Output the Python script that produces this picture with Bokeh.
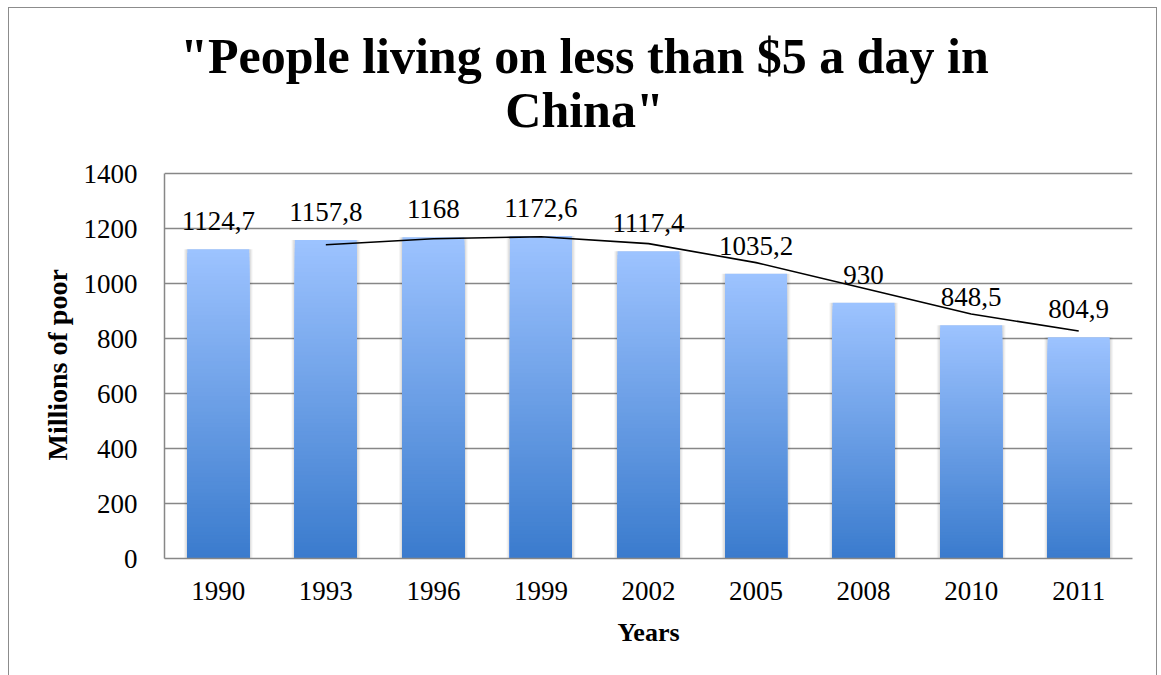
from bokeh.plotting import figure
from bokeh.models import ColumnDataSource, LabelSet, FixedTicker, FactorRange, Title
from bokeh.core.properties import value
from bokeh.embed import file_html
from bokeh.resources import INLINE

# ---- data ----
years = ["1990", "1993", "1996", "1999", "2002", "2005", "2008", "2010", "2011"]
poor_millions = [1124.7, 1157.8, 1168.0, 1172.6, 1117.4, 1035.2, 930.0, 848.5, 804.9]
trend_years = ["1993", "1996", "1999", "2002", "2005", "2008", "2010", "2011"]
trend_values = [1141, 1163, 1170, 1145, 1076, 983, 889, 827]
y_ticks = [0, 200, 400, 600, 800, 1000, 1200, 1400]
title_lines = ['"People living on less than $5 a day in', 'China"']
x_title = "Years"
y_title = "Millions of poor"

SERIF = "Liberation Serif"
GRID = "#878787"
TOP_RGB = (157, 195, 255)
BOT_RGB = (58, 123, 205)

# The frame reaches up to the top of the box so the title can sit inside it;
# the value axis itself is bounded to 0..1400.
AXIS_MAX = 1400
FRAME_H = 550
PLOT_PX = 385                       # pixel height of the 0..1400 part
Y_END = AXIS_MAX * FRAME_H / PLOT_PX
px_per_unit = PLOT_PX / AXIS_MAX

p = figure(
    x_range=FactorRange(*years), y_range=(0, Y_END),
    frame_width=968, frame_height=FRAME_H,
    min_border_left=155, min_border_right=24,
    min_border_top=0, min_border_bottom=117,
    output_backend="svg", toolbar_location=None, title=None,
    background_fill_color="white", border_fill_color="white",
)
p.styles = {
    "margin-left": "8px", "margin-top": "7px",
    "border-left": "1px solid #8c8c8c",
    "border-top": "1px solid #8c8c8c",
    "border-right": "1px solid #8c8c8c",
}
p.outline_line_color = None

# ---- title: two centred lines ----
title_x = (584 - 164) / (968 / len(years))             # centre in category units
title_y = [503 / px_per_unit, 449 / px_per_unit]       # the two baselines
p.text(x=[title_x, title_x], y=title_y, text=title_lines,
       text_font=value(SERIF), text_font_style="bold", text_font_size="50px",
       text_align="center", text_baseline="alphabetic", text_color="black")

# ---- bar shadows ----
bar_w = 0.576
px = 1.0 / (968 / len(years))
for extra, alpha in [(7, 0.035), (5, 0.045), (3, 0.06)]:
    p.vbar(x=years, top=poor_millions, bottom=0, width=bar_w + extra * px,
           fill_color="black", fill_alpha=alpha, line_color=None)

# ---- gradient bars: nested rectangles from 0, tallest (lightest) drawn first ----
N = 80
rows = []
for yr, v in zip(years, poor_millions):
    for i in range(N):
        f = (i + 0.5) / N
        r = round(BOT_RGB[0] + f * (TOP_RGB[0] - BOT_RGB[0]))
        g = round(BOT_RGB[1] + f * (TOP_RGB[1] - BOT_RGB[1]))
        b = round(BOT_RGB[2] + f * (TOP_RGB[2] - BOT_RGB[2]))
        rows.append((i, yr, v * (i + 1) / N, "#%02x%02x%02x" % (r, g, b)))
rows.sort(key=lambda t: -t[0])
src = ColumnDataSource(dict(x=[t[1] for t in rows], top=[t[2] for t in rows],
                            bottom=[0] * len(rows), color=[t[3] for t in rows]))
p.vbar(x="x", top="top", bottom="bottom", width=bar_w, fill_color="color",
       line_color=None, source=src)

# ---- trend line ----
p.line(trend_years, trend_values, line_color="black", line_width=1.6)

# ---- data labels ----
lab_src = ColumnDataSource(dict(
    x=years, y=poor_millions,
    t=[f"{v:g}".replace(".", ",") for v in poor_millions]))
p.add_layout(LabelSet(x="x", y="y", text="t", source=lab_src, y_offset=19,
                      text_align="center", text_baseline="alphabetic",
                      text_font=SERIF, text_font_size="27px", text_color="black"))

# ---- axes ----
p.yaxis.ticker = FixedTicker(ticks=y_ticks)
p.ygrid.ticker = FixedTicker(ticks=y_ticks)
p.yaxis.bounds = (0, AXIS_MAX)
p.xgrid.grid_line_color = None
p.ygrid.grid_line_color = GRID
p.ygrid.grid_line_width = 1.3

for ax in (p.xaxis[0], p.yaxis[0]):
    ax.axis_line_color = GRID
    ax.axis_line_width = 1.5
    ax.major_tick_line_color = None
    ax.minor_tick_line_color = None
    ax.major_label_text_font = SERIF
    ax.major_label_text_font_size = "27px"
    ax.major_label_text_color = "black"
    ax.axis_label_text_font = SERIF
    ax.axis_label_text_font_style = "bold"
    ax.axis_label_text_color = "black"

p.yaxis.major_label_standoff = 21
p.xaxis.major_label_standoff = 17
p.xaxis.axis_label = x_title
p.xaxis.axis_label_text_font_size = "26px"
p.xaxis.axis_label_standoff = 15

# value-axis title, placed beside the 0..1400 part of the axis
p.add_layout(Title(text=y_title, align="left", offset=98, standoff=15,
                   text_font=SERIF, text_font_style="bold",
                   text_font_size="28px", text_color="black"), "left")

open("out.html", "w").write(file_html(p, INLINE))
